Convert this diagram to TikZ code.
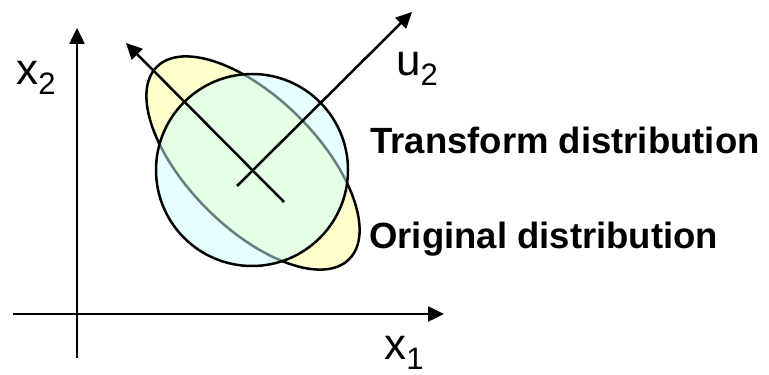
\documentclass[tikz,border=0pt]{standalone}
\usepackage{fontspec}
\setmainfont{Liberation Sans}
\usepackage{xcolor}
\usetikzlibrary{arrows.meta,positioning}
\definecolor{origfill}{HTML}{FFFFCC}
\definecolor{transfill}{HTML}{CCFFFF}
\newcommand{\varsub}[2]{#1\raisebox{-5pt}{\fontsize{15.5}{16}\selectfont #2}}

\begin{document}
\begin{tikzpicture}[x=0.5pt, y=0.5pt, >={Triangle[length=8pt, width=7.5pt]}, line width=1.25pt]
  \tikzstyle{lab}=[inner sep=0pt, anchor=base west, font=\fontsize{22}{24}\selectfont]
  \tikzstyle{caption}=[inner sep=0pt, anchor=base west, font=\fontsize{18.25}{20}\selectfont\bfseries]
  \useasboundingbox (0,0) rectangle (769,374);

  % axes
  \coordinate (ox) at (13,60);  \coordinate (ex) at (444,60);
  \coordinate (oy) at (77,16);  \coordinate (ey) at (77,346);
  \draw[->] (ox) -- (ex);
  \draw[->] (oy) -- (ey);
  \node[lab] (x1) at (383,15) {\varsub{x}{1}};
  \node[lab] (x2) at (15,289) {\varsub{x}{2}};

  % distributions
  \draw[fill=origfill] (253,211) ellipse [x radius=136, y radius=65, rotate=-45];
  \draw[fill=transfill, fill opacity=0.5] (252,204) circle [radius=96];

  % principal directions
  \coordinate (u2s) at (237,188); \coordinate (u2e) at (412,362);
  \coordinate (u1s) at (284,172); \coordinate (u1e) at (126,331);
  \draw[->] (u2s) -- (u2e);
  \draw[->] (u1s) -- (u1e);
  \node[lab] (u2) at (395,298) {\varsub{u}{2}};

  \node[caption] (trans) at (369,220) {Transform distribution};
  \node[caption] (orig) at (368,125) {Original distribution};
\end{tikzpicture}
\end{document}
